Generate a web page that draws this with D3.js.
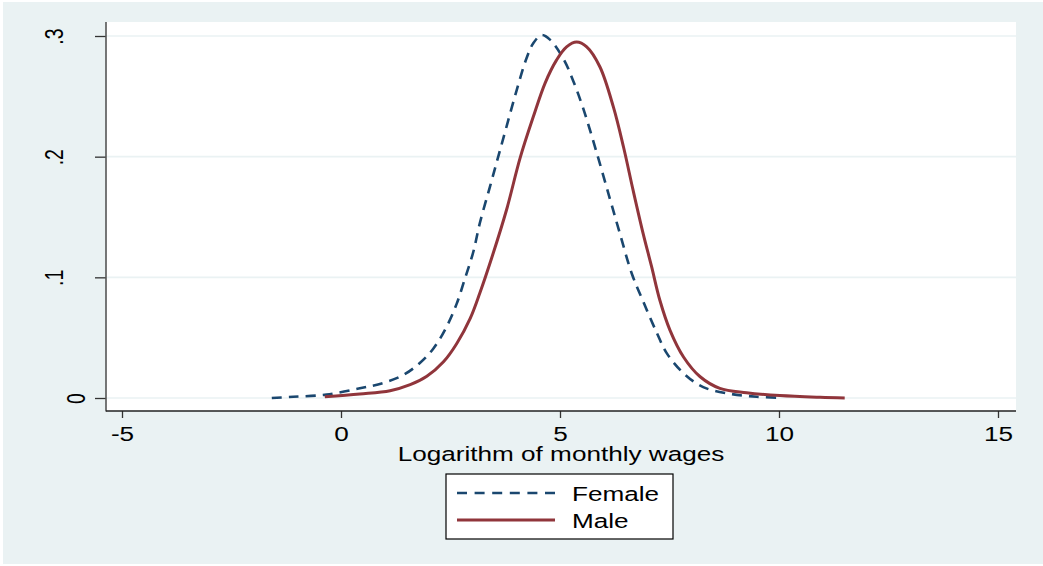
<!DOCTYPE html>
<html>
<head>
<meta charset="utf-8">
<script src="https://cdn.jsdelivr.net/npm/d3@7"></script>
<style>
  body { margin: 0; background: #ffffff; }
  svg { display: block; }
  text { font-family: "Liberation Sans", Arial, sans-serif; fill: #000; }
</style>
</head>
<body>
<div id="chart"></div>
<script>
// valeurs (densite kernel du log des salaires mensuels)
const femaleX = [-1.58, -1.09, -0.33, 0.43, 0.97, 1.42, 1.80, 2.11, 2.41, 2.64, 2.83, 3.02, 3.17, 3.40, 3.59, 3.78, 4.01, 4.24, 4.39, 4.58, 4.77, 5.08, 5.30, 5.53, 5.84, 6.14, 6.37, 6.64, 6.90, 7.21, 7.44, 7.82, 8.27, 8.88, 9.49, 10.02];
const femaleY = [0, 0.001, 0.0028, 0.008, 0.0125, 0.019, 0.029, 0.041, 0.059, 0.078, 0.099, 0.121, 0.145, 0.175, 0.200, 0.225, 0.255, 0.282, 0.294, 0.3008, 0.297, 0.281, 0.263, 0.240, 0.203, 0.165, 0.136, 0.103, 0.080, 0.054, 0.037, 0.0205, 0.009, 0.0035, 0.001, 0.0002];

const maleX = [-0.37, 0.43, 1.12, 1.58, 1.96, 2.34, 2.64, 2.95, 3.17, 3.44, 3.78, 4.09, 4.39, 4.66, 4.92, 5.15, 5.38, 5.61, 5.91, 6.22, 6.45, 6.67, 6.90, 7.09, 7.28, 7.51, 7.82, 8.20, 8.65, 9.26, 10.02, 10.94, 11.5];
const maleY = [0.001, 0.0033, 0.006, 0.011, 0.018, 0.030, 0.045, 0.066, 0.087, 0.116, 0.156, 0.199, 0.233, 0.261, 0.280, 0.291, 0.295, 0.291, 0.2745, 0.241, 0.208, 0.172, 0.136, 0.109, 0.081, 0.0563, 0.034, 0.0176, 0.008, 0.0044, 0.002, 0.0006, 0.0001];

const xTicks = [-5, 0, 5, 10, 15];
const yTicks = [0, 0.1, 0.2, 0.3];
const seriesNames = ["Female", "Male"];
const xTitle = "Logarithm of monthly wages";

const W = 1043, H = 566;
const plot = { left: 106, right: 1016, top: 22, bottom: 411 };
const stretch = 1.34; // le texte de l'image est etire horizontalement
const navy = "#1a476f", maroon = "#90353b";

let svg = d3.select("#chart").append("svg")
    .attr("width", W)
    .attr("height", H);

// fond exterieur
svg.append("rect").attr("x", 3).attr("y", 2).attr("width", W - 3).attr("height", 562)
    .attr("fill", "#eaf2f3");
// zone du graphique
svg.append("rect").attr("x", plot.left).attr("y", plot.top)
    .attr("width", plot.right - plot.left).attr("height", plot.bottom - plot.top)
    .attr("fill", "#ffffff");

let x = d3.scaleLinear().domain([-5, 15]).range([122, 998]);
let y = d3.scaleLinear().domain([0, 0.3]).range([398, 36]);

// grille horizontale
svg.append("g").selectAll("line")
    .data(yTicks)
    .enter().append("line")
    .attr("x1", plot.left).attr("x2", plot.right)
    .attr("y1", d => y(d)).attr("y2", d => y(d))
    .attr("stroke", "#eaf2f3").attr("stroke-width", 1.6);

// axe x
let gx = svg.append("g").attr("transform", "translate(0," + plot.bottom + ")")
    .call(d3.axisBottom(x).tickValues(xTicks).tickSize(7).tickFormat(d3.format("d")));
gx.select(".domain").remove();
gx.selectAll(".tick line").attr("stroke", "#333").attr("stroke-width", 1.3);
gx.selectAll(".tick text")
    .attr("y", 30).attr("dy", 0)
    .attr("font-size", 19.5)
    .attr("fill", "#000")
    .attr("transform", "scale(" + stretch + ",1)")
    .text(d => d < 0 ? "-" + Math.abs(d) : d);

// axe y
let gy = svg.append("g").attr("transform", "translate(" + plot.left + ",0)")
    .call(d3.axisLeft(y).tickValues(yTicks).tickSize(11)
        .tickFormat(d => d === 0 ? "0" : d3.format(".1f")(d).replace("0.", ".")));
gy.select(".domain").remove();
gy.selectAll(".tick line").attr("stroke", "#333").attr("stroke-width", 1.3);
gy.selectAll(".tick text")
    .attr("x", 0).attr("y", 0).attr("dy", 0)
    .attr("font-size", 19.5)
    .attr("fill", "#000")
    .attr("text-anchor", "middle")
    .attr("transform", d => {
        let off = d === 0 ? -21 : -43;
        return "translate(" + off + ",0) scale(" + stretch + ",1) rotate(-90)";
    });

// lignes des axes
svg.append("line").attr("x1", plot.left).attr("x2", plot.left)
    .attr("y1", plot.top).attr("y2", plot.bottom + 0.5)
    .attr("stroke", "#555").attr("stroke-width", 1.6);
svg.append("line").attr("x1", plot.left).attr("x2", plot.right)
    .attr("y1", plot.bottom).attr("y2", plot.bottom)
    .attr("stroke", "#222").attr("stroke-width", 1.4);

// titre axe x
svg.append("text")
    .attr("text-anchor", "middle")
    .attr("font-size", 19.5)
    .attr("transform", "translate(" + ((plot.left + plot.right) / 2) + ",461) scale(" + stretch + ",1)")
    .text(xTitle);

// courbes
let line = d3.line()
    .x(d => x(d[0]))
    .y(d => y(d[1]))
    .curve(d3.curveCatmullRom.alpha(0.5));

let femaleData = femaleX.map((d, i) => [d, femaleY[i]]);
let maleData = maleX.map((d, i) => [d, maleY[i]]);

svg.append("path").datum(femaleData)
    .attr("d", line)
    .attr("fill", "none")
    .attr("stroke", navy)
    .attr("stroke-width", 2.6)
    .attr("stroke-dasharray", "10,7");

svg.append("path").datum(maleData)
    .attr("d", line)
    .attr("fill", "none")
    .attr("stroke", maroon)
    .attr("stroke-width", 3);

// legende
let leg = svg.append("g");
leg.append("rect").attr("x", 446).attr("y", 474).attr("width", 227).attr("height", 65)
    .attr("fill", "#ffffff").attr("stroke", "#000").attr("stroke-width", 1.2);

let legItems = leg.selectAll("g.item")
    .data(seriesNames)
    .enter().append("g").attr("class", "item")
    .attr("transform", (d, i) => "translate(0," + (493 + 27 * i) + ")");

legItems.append("line")
    .attr("x1", 457).attr("x2", 555).attr("y1", 0).attr("y2", 0)
    .attr("stroke", (d, i) => i === 0 ? navy : maroon)
    .attr("stroke-width", (d, i) => i === 0 ? 2.4 : 3)
    .attr("stroke-dasharray", (d, i) => i === 0 ? "10,7.6" : null);

legItems.append("text")
    .attr("font-size", 19.5)
    .attr("transform", "translate(572,8) scale(" + stretch + ",1)")
    .text(d => d);
</script>
</body>
</html>
